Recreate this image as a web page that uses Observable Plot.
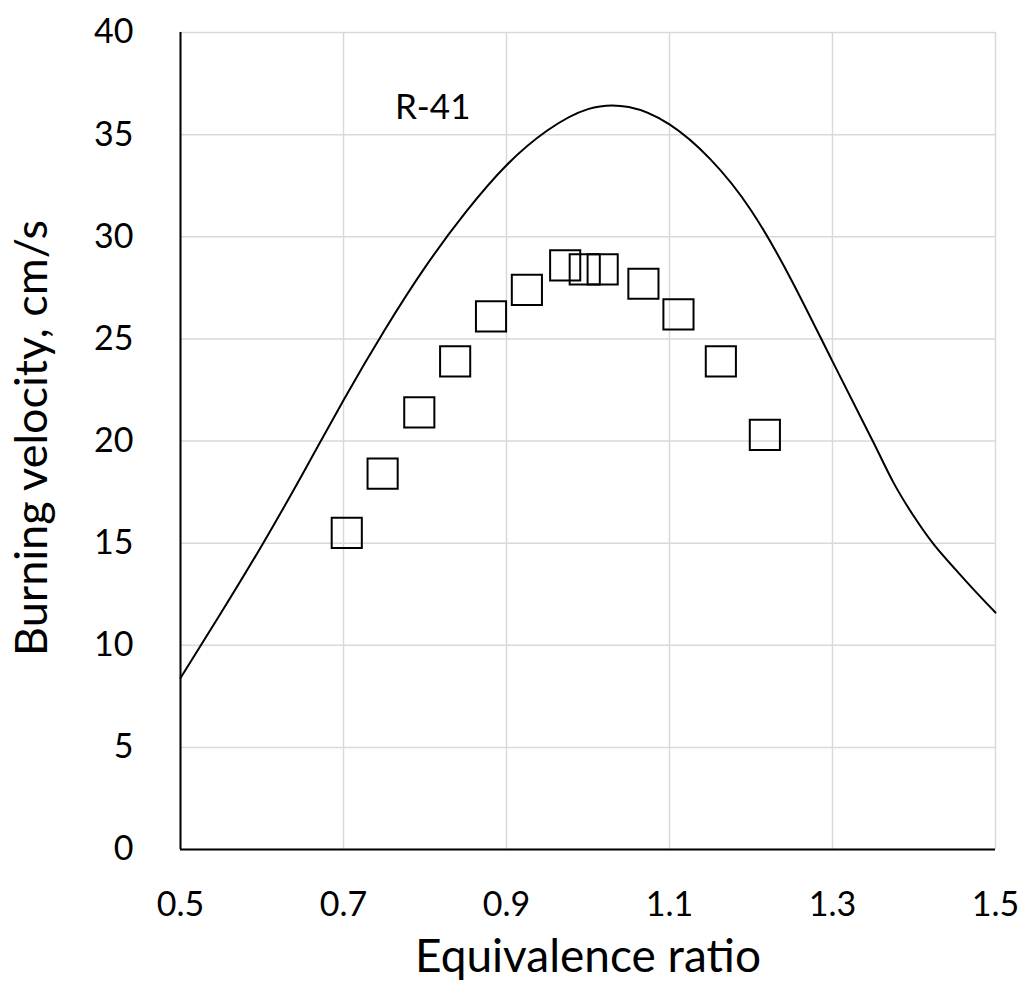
<!DOCTYPE html>
<html><head><meta charset="utf-8">
<script src="https://cdn.jsdelivr.net/npm/d3@7"></script>
<script src="https://cdn.jsdelivr.net/npm/@observablehq/plot@0.6"></script>
<style>html,body{margin:0;padding:0;background:#fff} svg{display:block}</style>
</head><body><div id="chart"></div>
<script>
// Model curve (R-41)
const curvePhi   = [0.5, 0.55, 0.6, 0.65, 0.7, 0.75, 0.8, 0.85, 0.9, 0.95, 1.0, 1.05, 1.1, 1.15, 1.2, 1.25, 1.3, 1.35, 1.375, 1.4, 1.425, 1.45, 1.475, 1.5];
const curveSpeed = [8.4, 11.6, 14.9, 18.4, 22.0, 25.4, 28.5, 31.2, 33.5, 35.2, 36.25, 36.35, 35.5, 33.8, 31.3, 27.85, 23.9, 19.95, 17.95, 16.3, 14.9, 13.75, 12.65, 11.6];
// Measured points
const measPhi   = [0.704, 0.748, 0.793, 0.837, 0.881, 0.925, 0.972, 0.996, 1.018, 1.068, 1.111, 1.163, 1.217];
const measSpeed = [15.5, 18.4, 21.4, 23.9, 26.1, 27.4, 28.6, 28.4, 28.4, 27.7, 26.2, 23.9, 20.3];
// Ticks & text
const xTicks = [0.5, 0.7, 0.9, 1.1, 1.3, 1.5];
const yTicks = [0, 5, 10, 15, 20, 25, 30, 35, 40];
const seriesLabel = ["R-41"];
const xTitle = ["Equivalence ratio"];
const yTitle = ["Burning velocity, cm/s"];
const labelAt = {x: 0.8094, y: 36.33};

const curve = curvePhi.map((x, i) => ({x, y: curveSpeed[i]}));
const meas = measPhi.map((x, i) => ({x, y: measSpeed[i]}));

const chart = Plot.plot({
  width: 1026, height: 994,
  marginLeft: 180, marginRight: 31, marginTop: 32, marginBottom: 145,
  style: {fontFamily: "Lato, 'Open Sans', sans-serif", background: "#fff", color: "#000"},
  x: {domain: [0.5, 1.5]},
  y: {domain: [0, 40]},
  marks: [
    Plot.gridX(xTicks, {stroke: "#d9d9d9", strokeOpacity: 1, strokeWidth: 1.5}),
    Plot.gridY(yTicks, {stroke: "#d9d9d9", strokeOpacity: 1, strokeWidth: 1.5}),
    Plot.axisX(xTicks, {tickSize: 0, tickPadding: 42, fontSize: 34, tickFormat: d => d.toFixed(1), label: null}),
    Plot.axisY(yTicks, {tickSize: 0, tickPadding: 47, fontSize: 34, label: null}),
    Plot.ruleX([0.5], {stroke: "#000", strokeWidth: 2}),
    Plot.ruleY([0], {stroke: "#000", strokeWidth: 2}),
    Plot.line(curve, {x: "x", y: "y", curve: "natural", stroke: "#000", strokeWidth: 2}),
    Plot.dot(meas, {x: "x", y: "y", symbol: "square", r: 17, stroke: "#000", strokeWidth: 2, fill: "none"}),
    Plot.text(seriesLabel, {x: () => labelAt.x, y: () => labelAt.y, fontSize: 35, fill: "#000"}),
    Plot.text(xTitle, {frameAnchor: "bottom", textAnchor: "middle", dy: 122, fontSize: 46, fill: "#000"}),
    Plot.text(yTitle, {frameAnchor: "left", textAnchor: "middle", rotate: -90, dx: -148, dy: -3, fontSize: 45, fill: "#000"})
  ]
});
document.getElementById("chart").append(chart);
</script>
</body></html>
